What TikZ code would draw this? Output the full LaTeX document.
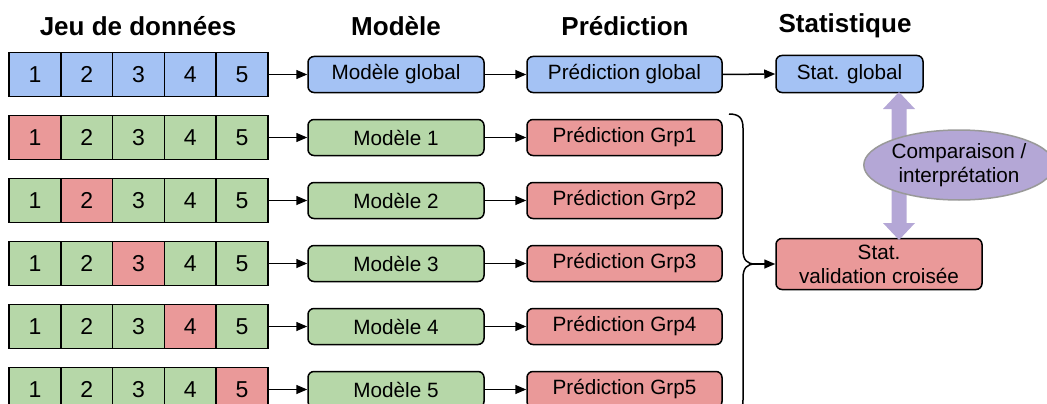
\documentclass[tikz,border=0pt]{standalone}
\usepackage{fontspec}
\setmainfont{Liberation Sans}
\usetikzlibrary{arrows.meta,calc,shapes.geometric}
\definecolor{cvblue}{HTML}{A4C2F4}
\definecolor{cvgreen}{HTML}{B6D7A8}
\definecolor{cvred}{HTML}{EA9999}
\definecolor{cvlav}{HTML}{B4A7D6}
\definecolor{cvgray}{HTML}{999999}
\begin{document}
\begin{tikzpicture}[x=1pt,y=-1pt,
  cell/.style={draw=black,line width=1.5pt,minimum width=51.8pt,minimum height=44pt,inner sep=0pt,font=\fontsize{23}{26}\selectfont},
  box/.style={draw=black,line width=1.5pt,rounded corners=6pt,minimum height=36pt,inner sep=0pt,font=\fontsize{20.7}{24}\selectfont},
  link/.style={line width=1.5pt,-{Triangle[length=11pt,width=9pt]}},
  head/.style={font=\bfseries\fontsize{26}{30}\selectfont},
  brace/.style={line width=1.5pt}]
\useasboundingbox (0,0) rectangle (1047,404);
\clip (0,0) rectangle (1047,404);

% column headers
\node[head] (h1) at (138,26) {Jeu de données};
\node[head] (h2) at (396,26) {Modèle};
\node[head] (h3) at (625,26) {Prédiction};
\node[head] (h4) at (845,26) {Statistique};

% data set rows: row 0 is the full set, rows 1-5 hold out one fold
\foreach \r in {0,...,5}{
  \foreach \c in {1,...,5}{
    \pgfmathsetmacro{\cx}{9+25.9+51.8*(\c-1)}
    \pgfmathsetmacro{\cy}{74.5+63*\r}
    \ifnum\r=0 \def\fc{cvblue}\else\ifnum\r=\c \def\fc{cvred}\else\def\fc{cvgreen}\fi\fi
    \node[cell,fill=\fc] (c\r\c) at (\cx,\cy) {\c};
  }
}

% models and predictions
\node[box,fill=cvblue,minimum width=176pt] (m0) at (396,74.5) {Modèle global};
\node[box,fill=cvblue,minimum width=195pt] (p0) at (624.5,74.5) {Prédiction global};
\foreach \r in {1,...,5}{
  \pgfmathsetmacro{\cy}{74.5+63*\r}
  \node[box,fill=cvgreen,minimum width=176pt] (m\r) at (396,\cy) {Modèle \r};
  \node[box,fill=cvred,minimum width=195pt] (p\r) at (624.5,\cy) {Prédiction Grp\r};
}
\foreach \r in {0,...,5}{
  \draw[link] (c\r5.east) -- (m\r.west);
  \draw[link] (m\r.east) -- (p\r.west);
}

% statistics
\node[box,fill=cvblue,minimum width=147pt,minimum height=37pt] (sg) at (849.5,74) {Stat. global};
\node[box,fill=cvred,minimum width=206pt,minimum height=51pt,align=center] (vc) at (879,264) {Stat.\\validation croisée};
\draw[link] (p0.east) -- (sg.west);

% brace gathering the fold predictions
\coordinate (btop) at (729,114);
\coordinate (bbot) at (729,414);
\coordinate (btip) at (755,264);
\draw[brace] (btop) .. controls (739,114) and (743,118) .. (743,128)
  -- (743,250) .. controls (743,260) and (747,264) .. (btip)
  .. controls (747,264) and (743,268) .. (743,278)
  -- (743,400) .. controls (743,410) and (739,414) .. (bbot);
\draw[link] (btip) -- (vc.west);

% two-way comparison arrow
\coordinate (dt) at (899,92);
\coordinate (db) at (899,240);
\fill[cvlav] (dt) -- ($(dt)+(16,17)$) -- ($(dt)+(7.5,17)$) -- ($(db)+(7.5,-17)$)
  -- ($(db)+(16,-17)$) -- (db) -- ($(db)+(-16,-17)$) -- ($(db)+(-7.5,-17)$)
  -- ($(dt)+(-7.5,17)$) -- ($(dt)+(-16,17)$) -- cycle;
\node[ellipse,draw=cvgray,line width=1.5pt,fill=cvlav,minimum width=175pt,minimum height=70pt,inner sep=0pt,align=center,font=\fontsize{20.7}{24}\selectfont] (cmp) at (959,165) {Comparaison /\\interprétation};
\end{tikzpicture}
\end{document}
